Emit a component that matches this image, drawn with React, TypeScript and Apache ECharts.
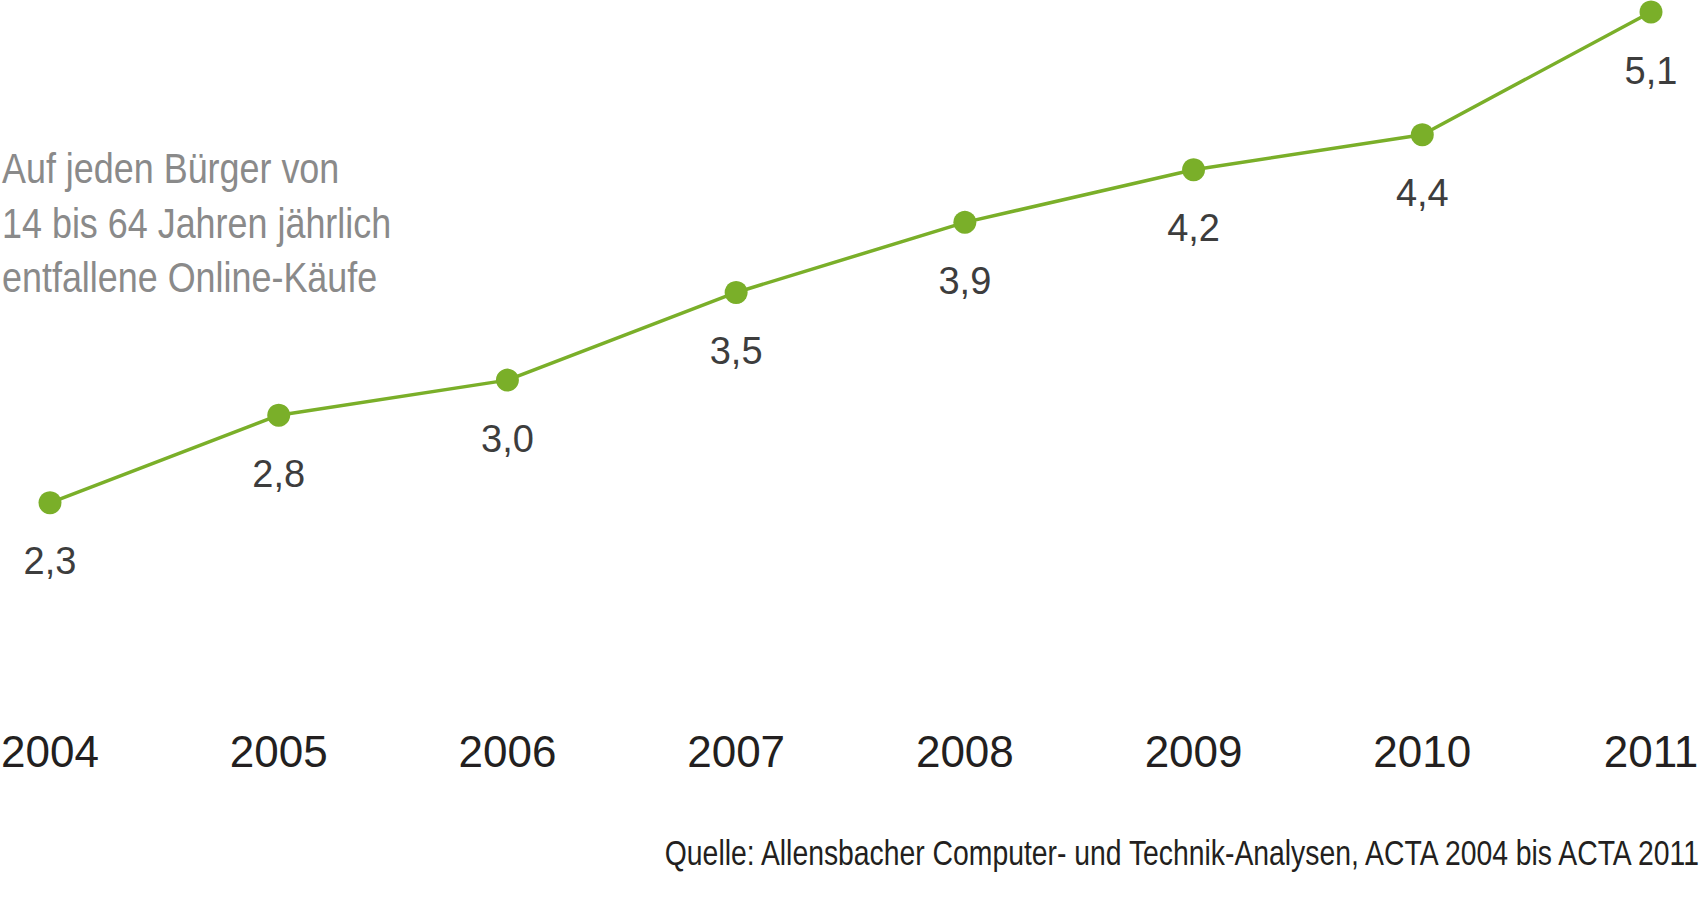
import React, { useEffect, useRef } from "react";
import * as echarts from "echarts";

const years = ["2004", "2005", "2006", "2007", "2008", "2009", "2010", "2011"];
const purchases = [2.3, 2.8, 3.0, 3.5, 3.9, 4.2, 4.4, 5.1];
const sideNote = ["Auf jeden Bürger von", "14 bis 64 Jahren jährlich", "entfallene Online-Käufe"];
const sourceNote = "Quelle: Allensbacher Computer- und Technik-Analysen, ACTA 2004 bis ACTA 2011";

const FONT = "'Liberation Sans', Arial, sans-serif";

export default function App() {
  const ref = useRef<HTMLDivElement>(null);
  useEffect(() => {
    if (!ref.current) return;
    const chart = echarts.init(ref.current, undefined, { renderer: "svg" });
    chart.setOption({
      animation: false,
      backgroundColor: "#ffffff",
      grid: { left: 50, right: 49, top: 12, bottom: 0, containLabel: false, outerBoundsMode: "none" },
      xAxis: {
        type: "category",
        data: years,
        boundaryGap: false,
        offset: -177,
        axisLine: { show: false },
        axisTick: { show: false },
        splitLine: { show: false },
        axisLabel: {
          margin: 0,
          fontSize: 44,
          lineHeight: 44,
          fontFamily: FONT,
          color: "#231f20",
        },
      },
      yAxis: {
        type: "value",
        min: 0,
        max: 5.1,
        show: false,
        splitLine: { show: false },
      },
      series: [
        {
          type: "line",
          data: purchases,
          symbol: "circle",
          symbolSize: 23,
          lineStyle: { color: "#7aaf29", width: 3.5 },
          itemStyle: { color: "#7aaf29" },
          label: {
            show: true,
            position: "bottom",
            distance: 28,
            fontSize: 38,
            lineHeight: 38,
            fontFamily: FONT,
            color: "#3d3d3d",
            formatter: (p: any) => p.value.toFixed(1).replace(".", ","),
          },
        },
      ],
      graphic: [
        {
          type: "text",
          x: 2,
          y: 141,
          scaleX: 0.835,
          style: {
            text: sideNote.join("\n"),
            x: 0,
            y: 0,
            verticalAlign: "top",
            fontSize: 43,
            lineHeight: 54.5,
            fontFamily: FONT,
            fill: "#8a8a8a",
          },
        },
        {
          type: "text",
          x: 1699,
          y: 834,
          scaleX: 0.81,
          style: {
            text: sourceNote,
            x: 0,
            y: 0,
            align: "right",
            verticalAlign: "top",
            fontSize: 35,
            lineHeight: 37,
            fontFamily: FONT,
            fill: "#231f20",
          },
        },
      ],
    });
    return () => chart.dispose();
  }, []);
  return (
    <div
      ref={ref}
      style={{ position: "fixed", left: 0, top: 0, width: 1700, height: 906, background: "#fff" }}
    />
  );
}
